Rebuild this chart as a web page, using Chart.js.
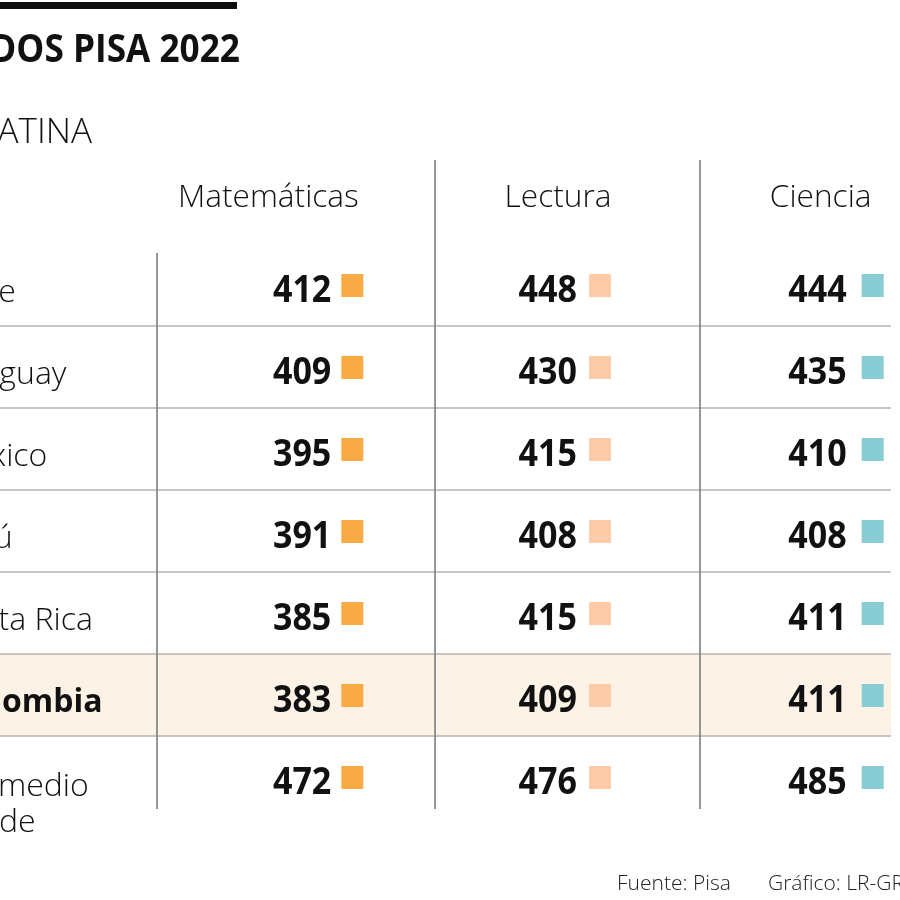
<!DOCTYPE html>
<html>
<head>
<meta charset="utf-8">
<script src="https://cdn.jsdelivr.net/npm/chart.js@4.4.0/dist/chart.umd.min.js"></script>
<style>
  html, body { margin: 0; padding: 0; background: #ffffff; }
  #wrap { width: 900px; height: 900px; position: relative; }
</style>
</head>
<body>
<div id="wrap"><canvas id="c" width="900" height="900"></canvas></div>
<script>
// ---- DATA ----
const titleText = 'RESULTADOS PISA 2022';
const subtitleText = 'AMÉRICA LATINA';
const countries = ['Chile', 'Uruguay', 'México', 'Perú', 'Costa Rica', 'Colombia', 'Promedio Ocde'];
const subjects = ['Matemáticas', 'Lectura', 'Ciencia'];
const matematicas = [412, 409, 395, 391, 385, 383, 472];
const lectura = [448, 430, 415, 408, 415, 409, 476];
const ciencia = [444, 435, 410, 408, 411, 411, 485];
const highlightCountry = 'Colombia';
const sourceText = 'Fuente: Pisa';
const creditText = 'Gráfico: LR-GR';

// ---- STYLE ----
const seriesColors = ['#f8aa45', '#fdcba7', '#87cdd3'];
const LIGHT = "300 {s}px 'Open Sans', 'Noto Sans', sans-serif";
const BOLD = "700 {s}px 'Open Sans', 'Noto Sans', sans-serif";
const f = (tpl, s) => tpl.replace('{s}', s);
const headerOff = [-11, 34, 52];
const squareOff = [62, 65, 93];
const numGap = [10, 12, 15];
const sq = 22;

const seriesData = [matematicas, lectura, ciencia];

function drawScaled(ctx, text, x, y, sx, align) {
  ctx.save();
  ctx.translate(x, y);
  ctx.scale(sx, 1);
  ctx.textAlign = align;
  ctx.fillText(text, 0, 0);
  ctx.restore();
}

const tablePlugin = {
  id: 'tablePlugin',
  beforeDatasetsDraw(chart) {
    const { ctx, scales: { x, y }, chartArea } = chart;
    const rowH = y.getPixelForValue(1) - y.getPixelForValue(0);
    ctx.save();
    const hy = y.getPixelForValue(countries.indexOf(highlightCountry));
    ctx.fillStyle = '#fdf2e6';
    ctx.fillRect(0, hy - rowH / 2, chartArea.right, rowH);
    ctx.strokeStyle = '#b5b5b5';
    ctx.lineWidth = 1.3;
    for (let i = 0; i < countries.length - 1; i++) {
      const yy = (y.getPixelForValue(i) + y.getPixelForValue(i + 1)) / 2;
      ctx.beginPath(); ctx.moveTo(0, yy); ctx.lineTo(chartArea.right, yy); ctx.stroke();
    }
    ctx.strokeStyle = '#7d7d7d';
    ctx.lineWidth = 1.6;
    const bottom = y.getPixelForValue(countries.length - 1) + rowH / 2 - 9;
    ctx.beginPath(); ctx.moveTo(chartArea.left, chartArea.top + 9); ctx.lineTo(chartArea.left, bottom); ctx.stroke();
    [0, 1].forEach(i => {
      const cx = x.getPixelForValue(i) + (i === 0 ? 155.7 : 176);
      ctx.beginPath(); ctx.moveTo(cx, 160); ctx.lineTo(cx, bottom); ctx.stroke();
    });
    ctx.restore();
  },
  afterDatasetsDraw(chart) {
    const { ctx, scales: { x, y } } = chart;
    ctx.save();
    ctx.fillStyle = '#0d0d0d';
    ctx.fillRect(0, 2, 237, 7);
    ctx.fillStyle = '#111';
    ctx.textBaseline = 'alphabetic';
    ctx.font = f(BOLD, 40);
    drawScaled(ctx, titleText, 240, 62, 0.88, 'right');
    ctx.font = f(LIGHT, 35);
    drawScaled(ctx, subtitleText, 92, 143, 1, 'right');
    ctx.font = f(LIGHT, 31);
    subjects.forEach((s, i) => {
      drawScaled(ctx, s, x.getPixelForValue(i) + headerOff[i], 207, 1.02, 'center');
    });
    countries.forEach((c, i) => {
      const yc = y.getPixelForValue(i);
      if (c === highlightCountry) {
        ctx.font = f(BOLD, 32);
        drawScaled(ctx, c, -48, yc + 17, 1, 'left');
      } else if (c.startsWith('Promedio')) {
        ctx.font = f(LIGHT, 32);
        const parts = c.split(' ');
        drawScaled(ctx, parts[0], -52, yc + 19, 1, 'left');
        drawScaled(ctx, parts[1].toLowerCase(), -35, yc + 55, 1, 'left');
      } else {
        ctx.font = f(LIGHT, 32);
        drawScaled(ctx, c, -55, yc + 17, 1, 'left');
      }
    });
    chart.data.datasets.forEach((ds, di) => {
      const meta = chart.getDatasetMeta(di);
      meta.data.forEach((pt, i) => {
        const sqx = pt.x + squareOff[di];
        ctx.fillStyle = seriesColors[di];
        ctx.fillRect(sqx, pt.y - 11, sq, sq + 1);
        ctx.fillStyle = '#111';
        ctx.font = f(BOLD, 37);
        drawScaled(ctx, String(ds.values[i]), sqx - numGap[di], pt.y + 17, 0.92, 'right');
      });
    });
    ctx.fillStyle = '#222';
    ctx.font = f(LIGHT, 21);
    drawScaled(ctx, sourceText, 617, 890, 1, 'left');
    drawScaled(ctx, creditText, 768, 890, 1, 'left');
    ctx.restore();
  }
};

new Chart(document.getElementById('c'), {
  type: 'line',
  data: {
    datasets: subjects.map((s, di) => ({
      label: s,
      values: seriesData[di],
      data: countries.map(c => ({ x: s, y: c })),
      showLine: false,
      pointRadius: 0,
      pointHoverRadius: 0,
      backgroundColor: seriesColors[di],
      borderColor: seriesColors[di]
    }))
  },
  options: {
    responsive: false,
    animation: false,
    events: [],
    layout: { padding: { left: 157, right: 9, top: 244, bottom: 82 } },
    plugins: { legend: { display: false }, tooltip: { enabled: false }, title: { display: false } },
    scales: {
      x: { type: 'category', labels: subjects, offset: true, display: false },
      y: { type: 'category', labels: countries, offset: true, display: false }
    }
  },
  plugins: [tablePlugin]
});
</script>
</body>
</html>
